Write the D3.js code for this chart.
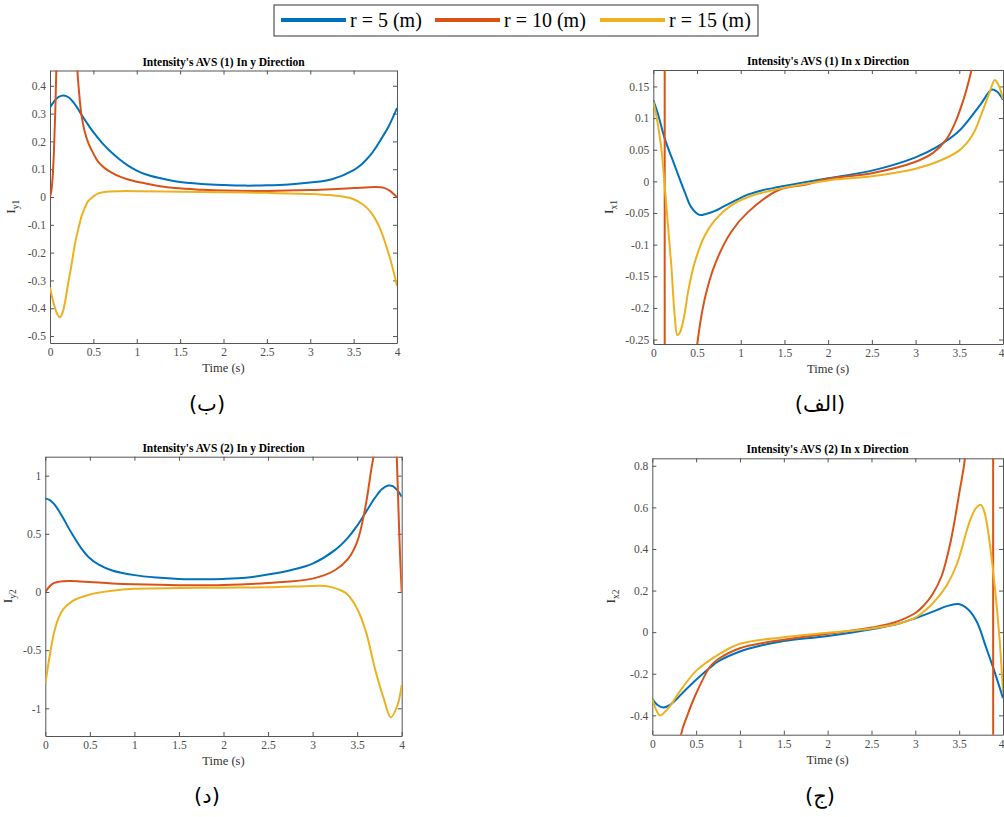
<!DOCTYPE html>
<html>
<head>
<meta charset="utf-8">
<script src="https://cdn.jsdelivr.net/npm/d3@7"></script>
<style>
  body { margin: 0; background: #fff; }
  svg { display: block; }
  .tick line, .domain { stroke: #555; }
</style>
</head>
<body>
<svg id="chart" width="1004" height="817"></svg>
<script>
// series labels and colours
var seriesNames = ["r = 5 (m)", "r = 10 (m)", "r = 15 (m)"];
var seriesColors = ["#0072BD", "#D95319", "#EDB120"];

// time ticks, shared by all four panels
var timeTicks = [0, 0.5, 1, 1.5, 2, 2.5, 3, 3.5, 4];

// (ب) Iy1 — [time, value]
var iy1R5 = [[0,0.322],[0.05,0.345],[0.1,0.36],[0.16,0.365],[0.22,0.357],[0.3,0.328],[0.365,0.295],[0.45,0.255],[0.5,0.233],[0.6,0.195],[0.71,0.16],[0.8,0.136],[0.9,0.113],[1.0,0.095],[1.1,0.082],[1.25,0.069],[1.44,0.057],[1.75,0.047],[2.0,0.043],[2.25,0.041],[2.5,0.042],[2.75,0.045],[3.0,0.052],[3.25,0.064],[3.5,0.097],[3.6,0.12],[3.7,0.153],[3.75,0.175],[3.8,0.2],[3.9,0.252],[4.0,0.32]];
var iy1R10 = [[0,0],[0.015,0.02],[0.03,0.07],[0.045,0.16],[0.06,0.3],[0.075,0.48],[0.09,0.8],[0.12,2],[0.2,3],[0.27,1.2],[0.3,0.6],[0.315,0.46],[0.34,0.36],[0.365,0.29],[0.4,0.236],[0.44,0.196],[0.5,0.156],[0.557,0.126],[0.63,0.104],[0.71,0.088],[0.8,0.074],[0.9,0.063],[1.0,0.055],[1.1,0.049],[1.25,0.04],[1.44,0.032],[1.75,0.026],[2.0,0.023],[2.5,0.022],[3.0,0.025],[3.25,0.028],[3.5,0.032],[3.75,0.036],[3.85,0.033],[3.92,0.022],[3.97,0.008],[4.0,0]];
var iy1R15 = [[0,-0.325],[0.04,-0.38],[0.08,-0.418],[0.115,-0.432],[0.15,-0.41],[0.21,-0.31],[0.25,-0.24],[0.29,-0.165],[0.33,-0.11],[0.365,-0.068],[0.4,-0.04],[0.44,-0.015],[0.5,0.002],[0.557,0.013],[0.65,0.019],[0.8,0.021],[1.0,0.021],[1.5,0.019],[2.0,0.017],[2.5,0.015],[3.0,0.011],[3.25,0.006],[3.4,0.0],[3.5,-0.008],[3.6,-0.025],[3.7,-0.055],[3.8,-0.11],[3.9,-0.2],[3.95,-0.255],[4.0,-0.32]];
var iy1Ticks = [-0.5, -0.4, -0.3, -0.2, -0.1, 0, 0.1, 0.2, 0.3, 0.4];

// (الف) Ix1
var ix1R5 = [[0,0.128],[0.05,0.108],[0.13,0.068],[0.245,0.025],[0.36,-0.017],[0.435,-0.041],[0.53,-0.053],[0.6,-0.0515],[0.7,-0.047],[0.8,-0.04],[0.89,-0.0335],[1.0,-0.026],[1.08,-0.021],[1.25,-0.014],[1.43,-0.009],[1.75,-0.001],[2.0,0.005],[2.5,0.017],[3.0,0.038],[3.25,0.055],[3.5,0.08],[3.75,0.123],[3.87,0.145],[3.93,0.142],[4.0,0.129]];
var ix1R10 = [[0,0.35],[0.08,0.8],[0.115,2],[0.128,8],[0.134,-8],[0.15,-3],[0.25,-1],[0.4,-0.42],[0.503,-0.257],[0.588,-0.186],[0.7,-0.133],[0.89,-0.08],[1.08,-0.049],[1.43,-0.014],[1.75,-0.005],[2.0,0.004],[2.5,0.013],[3.0,0.031],[3.2,0.045],[3.35,0.066],[3.45,0.092],[3.55,0.13],[3.64,0.176],[3.75,0.25]];
var ix1R15 = [[0,0.126],[0.04,0.1],[0.092,0.052],[0.12,0.01],[0.149,-0.038],[0.18,-0.09],[0.206,-0.133],[0.245,-0.212],[0.275,-0.243],[0.3,-0.24],[0.32,-0.233],[0.36,-0.208],[0.397,-0.175],[0.474,-0.128],[0.588,-0.086],[0.7,-0.062],[0.89,-0.038],[1.08,-0.025],[1.43,-0.012],[2.0,0.0015],[2.5,0.008],[3.0,0.02],[3.25,0.031],[3.5,0.049],[3.65,0.073],[3.75,0.105],[3.85,0.142],[3.905,0.16],[3.95,0.152],[4.0,0.13]];
var ix1Ticks = [-0.25, -0.2, -0.15, -0.1, -0.05, 0, 0.05, 0.1, 0.15];

// (د) Iy2
var iy2R5 = [[0,0.805],[0.05,0.79],[0.1,0.755],[0.15,0.7],[0.2,0.635],[0.3,0.5],[0.4,0.38],[0.5,0.29],[0.6,0.235],[0.75,0.185],[1.0,0.145],[1.25,0.124],[1.5,0.112],[1.75,0.109],[2.0,0.112],[2.25,0.122],[2.5,0.15],[2.75,0.187],[3.0,0.244],[3.25,0.36],[3.4,0.47],[3.5,0.57],[3.6,0.69],[3.7,0.81],[3.78,0.885],[3.85,0.915],[3.9,0.91],[3.95,0.875],[4.0,0.82]];
var iy2R10 = [[0,0],[0.05,0.05],[0.1,0.078],[0.2,0.093],[0.28,0.095],[0.4,0.09],[0.5,0.086],[0.75,0.074],[1.0,0.066],[1.5,0.058],[2.0,0.06],[2.5,0.078],[3.0,0.115],[3.25,0.187],[3.4,0.287],[3.5,0.43],[3.59,0.72],[3.66,1.06],[3.69,1.2],[3.72,1.5],[3.78,3],[3.88,3],[3.93,1.6],[3.945,1.16],[3.96,0.8],[3.98,0.35],[4.0,0]];
var iy2R15 = [[0,-0.79],[0.05,-0.546],[0.1,-0.345],[0.15,-0.22],[0.2,-0.15],[0.3,-0.08],[0.5,-0.022],[0.75,0.01],[1.0,0.027],[1.5,0.034],[2.0,0.037],[2.5,0.04],[3.0,0.052],[3.15,0.052],[3.3,0.02],[3.38,-0.014],[3.5,-0.144],[3.6,-0.345],[3.7,-0.66],[3.8,-0.92],[3.877,-1.078],[3.95,-0.98],[4.0,-0.8]];
var iy2Ticks = [-1, -0.5, 0, 0.5, 1];

// (ج) Ix2
var ix2R5 = [[0,-0.322],[0.06,-0.35],[0.125,-0.362],[0.18,-0.355],[0.25,-0.333],[0.35,-0.29],[0.5,-0.229],[0.66,-0.17],[0.75,-0.141],[1.0,-0.093],[1.25,-0.063],[1.5,-0.042],[2.0,-0.018],[2.5,0.014],[2.824,0.043],[3.0,0.067],[3.25,0.107],[3.35,0.124],[3.49,0.135],[3.6,0.11],[3.7,0.051],[3.81,-0.077],[3.89,-0.173],[4.0,-0.317]];
var ix2R10 = [[0,-3],[0.15,-1.5],[0.25,-0.8],[0.327,-0.493],[0.4,-0.4],[0.5,-0.295],[0.66,-0.165],[0.75,-0.13],[1.0,-0.077],[1.5,-0.036],[2.0,-0.008],[2.5,0.022],[2.75,0.045],[3.0,0.092],[3.1,0.13],[3.2,0.185],[3.3,0.27],[3.4,0.43],[3.51,0.69],[3.566,0.836],[3.7,1.6],[3.85,5],[3.885,15],[3.895,-15],[3.95,-4],[4.0,-2.5]];
var ix2R15 = [[0,-0.322],[0.04,-0.37],[0.087,-0.4],[0.14,-0.385],[0.2,-0.357],[0.3,-0.293],[0.5,-0.186],[0.75,-0.109],[1.0,-0.056],[1.5,-0.024],[2.0,-0.003],[2.5,0.018],[2.824,0.043],[3.0,0.07],[3.1,0.1],[3.2,0.139],[3.35,0.22],[3.47,0.323],[3.62,0.532],[3.69,0.595],[3.748,0.612],[3.79,0.575],[3.83,0.484],[3.908,0.212],[3.96,-0.029],[4.0,-0.29]];
var ix2Ticks = [-0.4, -0.2, 0, 0.2, 0.4, 0.6, 0.8];

var svg = d3.select("#chart");
svg.append("rect").attr("width", 1004).attr("height", 817).attr("fill", "#fff");

var fmt = function(d) { return String(+d.toFixed(2)); };
var serif = "'Liberation Serif', 'Times New Roman', serif";

// d3 puts its own sans-serif font on the axis group, so override it there
function styleAxis(sel) {
  sel.attr("font-family", serif).attr("font-size", 11.5);
  sel.selectAll(".tick text").attr("fill", "#4d4d4d");
}

function drawPanel(p, idx) {
  var x = d3.scaleLinear().domain([0, 4]).range([p.left, p.right]);
  var y = d3.scaleLinear().domain(p.yDomain).range([p.bottom, p.top]);

  var clipId = "clip" + idx;
  svg.append("clipPath").attr("id", clipId)
    .append("rect")
    .attr("x", p.left).attr("y", p.top)
    .attr("width", p.right - p.left).attr("height", p.bottom - p.top);

  // ticks point inward on all four sides (box on)
  var xAxis = svg.append("g").attr("transform", `translate(0,${p.bottom})`)
    .call(d3.axisBottom(x).tickValues(timeTicks).tickFormat(fmt).tickSize(-4).tickSizeOuter(0).tickPadding(5))
    .call(styleAxis);
  if (p.right > 1000) {
    // figure is cropped on the right: keep the last label inside
    xAxis.selectAll(".tick text").filter(d => d === 4).attr("text-anchor", "end").attr("dx", 1);
  }
  svg.append("g").attr("transform", `translate(0,${p.top})`)
    .call(d3.axisTop(x).tickValues(timeTicks).tickFormat("").tickSize(-4).tickSizeOuter(0));
  svg.append("g").attr("transform", `translate(${p.left},0)`)
    .call(d3.axisLeft(y).tickValues(p.yTicks).tickFormat(fmt).tickSize(-4).tickSizeOuter(0).tickPadding(4))
    .call(styleAxis);
  svg.append("g").attr("transform", `translate(${p.right},0)`)
    .call(d3.axisRight(y).tickValues(p.yTicks).tickFormat("").tickSize(-4).tickSizeOuter(0));

  var line = d3.line()
    .x(d => x(d[0]))
    .y(d => y(d[1]))
    .curve(d3.curveCatmullRom.alpha(0.5));

  var g = svg.append("g").attr("clip-path", `url(#${clipId})`);
  p.series.forEach(function(s, i) {
    g.append("path")
      .datum(s)
      .attr("fill", "none")
      .attr("stroke", seriesColors[i])
      .attr("stroke-width", 2)
      .attr("d", line);
  });

  var cx = (p.left + p.right) / 2;
  svg.append("text")
    .attr("x", cx).attr("y", p.top - 5)
    .attr("text-anchor", "middle")
    .style("font-family", serif)
    .style("font-size", "11.5px")
    .style("font-weight", "bold")
    .text(p.title);

  svg.append("text")
    .attr("x", cx).attr("y", p.bottom + 29)
    .attr("text-anchor", "middle")
    .style("font-family", serif)
    .style("font-size", "12.5px")
    .attr("fill", "#333")
    .text("Time (s)");

  var yl = svg.append("text")
    .attr("transform", `translate(${p.labelX},${(p.top + p.bottom) / 2}) rotate(-90)`)
    .attr("text-anchor", "middle")
    .style("font-family", serif)
    .style("font-size", "13.5px")
    .attr("fill", "#333");
  yl.append("tspan").text("I");
  yl.append("tspan").attr("dy", 4).style("font-size", "9.5px").text(p.sub);

  svg.append("text")
    .attr("x", p.capX).attr("y", p.capY)
    .attr("text-anchor", "middle")
    .style("font-family", "'DejaVu Sans', sans-serif")
    .style("font-size", "21px")
    .text(p.caption);
}

var panels = [
  { title: "Intensity's AVS (1) In y Direction", sub: "y1", caption: "(ب)",
    left: 50, right: 397, top: 70.5, bottom: 343, yDomain: [-0.525, 0.455], yTicks: iy1Ticks,
    labelX: 15, capX: 207, capY: 411, series: [iy1R5, iy1R10, iy1R15] },
  { title: "Intensity's AVS (1) In x Direction", sub: "x1", caption: "(الف)",
    left: 653.3, right: 1003, top: 70, bottom: 344, yDomain: [-0.257, 0.176], yTicks: ix1Ticks,
    labelX: 613, capX: 820, capY: 411, series: [ix1R5, ix1R10, ix1R15] },
  { title: "Intensity's AVS (2) In y Direction", sub: "y2", caption: "(د)",
    left: 45.3, right: 401.7, top: 456.7, bottom: 736, yDomain: [-1.238, 1.163], yTicks: iy2Ticks,
    labelX: 12, capX: 207, capY: 803, series: [iy2R5, iy2R10, iy2R15] },
  { title: "Intensity's AVS (2) In x Direction", sub: "x2", caption: "(ج)",
    left: 652.3, right: 1003, top: 458.3, bottom: 734.7, yDomain: [-0.493, 0.836], yTicks: ix2Ticks,
    labelX: 615, capX: 820, capY: 803, series: [ix2R5, ix2R10, ix2R15] }
];

panels.forEach(drawPanel);

// legend across the top
var legend = svg.append("g");
legend.append("rect")
  .attr("x", 274).attr("y", 5).attr("width", 484).attr("height", 31)
  .attr("fill", "#fff").attr("stroke", "#333").attr("stroke-width", 1);
var legendX = [281, 435, 600];
seriesNames.forEach(function(name, i) {
  legend.append("line")
    .attr("x1", legendX[i]).attr("x2", legendX[i] + 65)
    .attr("y1", 20).attr("y2", 20)
    .attr("stroke", seriesColors[i]).attr("stroke-width", 4);
  legend.append("text")
    .attr("x", legendX[i] + 69).attr("y", 27)
    .style("font-family", serif)
    .style("font-size", "20px")
    .text(name);
});
</script>
</body>
</html>
